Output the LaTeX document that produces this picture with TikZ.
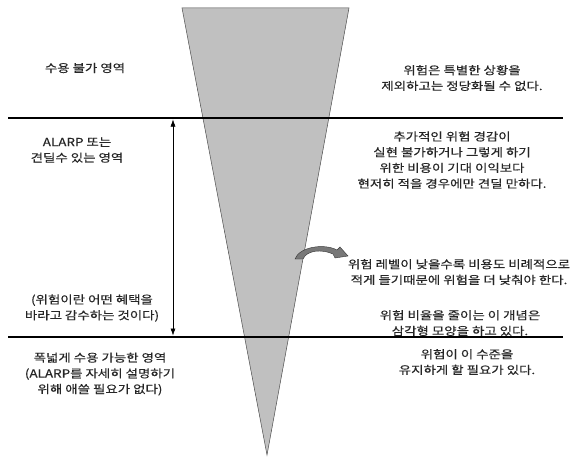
\documentclass[tikz,border=0pt]{standalone}
\usepackage{fontspec}
\setmainfont[FakeStretch=1.2, FakeBold=0.4]{Noto Sans CJK KR}
\usetikzlibrary{arrows.meta, positioning}
\definecolor{conegray}{RGB}{192,192,192}
\definecolor{bendgray}{RGB}{120,120,120}

\begin{document}
\begin{tikzpicture}[x=1pt, y=-1pt,
  txt/.style={align=center, font=\fontsize{11.2}{15.7}\selectfont, inner sep=0pt, text=black!85},
  level/.style={line width=2.2pt}]
 \useasboundingbox (0,0) rectangle (577,460);
 % the cone of risk
 \draw[fill=conegray, draw=black!70, line width=0.5pt] (182,8) -- (349,8) -- (267,455) -- cycle;
 % region borders
 \coordinate (topL) at (8,118);
 \coordinate (topR) at (563,118);
 \coordinate (botL) at (8,337);
 \coordinate (botM) at (325,337);
 \coordinate (botR) at (563,337);
 \draw[level] (topL) -- (topR);
 \draw[level] (botL) -- (botM);
 \draw[line width=1.2pt] (botM) -- (botR);
 \coordinate (arrTop) at (173,119.5);
 \coordinate (arrBot) at (173,335.5);
 \draw[{Latex[length=7pt,width=5pt]}-{Latex[length=7pt,width=5pt]}, line width=0.5pt] (arrTop) -- (arrBot);
 % bent arrow out of the cone
 \draw[fill=bendgray, draw=black!80, line width=0.4pt]
   (295,259) .. controls (299,247) and (324,243) .. (337,250)
   -- (340,247) -- (348,256) -- (335,258) -- (333,254)
   .. controls (322,249) and (307,250) .. (303,259) -- cycle;
 % left column
 \node[txt] (unacc) at (85,68){수용 불가 영역};
 \node[txt] (alarp) at (77,150){ALARP 또는\\견딜수 있는 영역};
 \node[txt] (tolnote) at (92,308){(위험이란 어떤 혜택을\\바라고 감수하는 것이다)};
 \node[txt] (broad) at (100,374){폭넓게 수용 가능한 영역\\(ALARP를 자세히 설명하기\\위해 애쓸 필요가 없다)};
 % right column
 \node[txt] (unjust) at (462,78){위험은 특별한 상황을\\제외하고는 정당화될 수 없다.};
 \node[txt] (tolerab) at (452,160){추가적인 위험 경감이\\실현 불가하거나 그렇게 하기\\위한 비용이 기대 이익보다\\현저히 적을 경우에만 견딜 만하다.};
 \node[txt] (lower) at (459,272){위험 레벨이 낮을수록 비용도 비례적으로\\적게 들기때문에 위험을 더 낮춰야 한다.};
 \node[txt] (shape) at (460,323){위험 비율을 줄이는 이 개념은\\삼각형 모양을 하고 있다.};
 \node[txt] (keep) at (467,362){위험이 이 수준을\\유지하게 할 필요가 있다.};
\end{tikzpicture}
\end{document}
